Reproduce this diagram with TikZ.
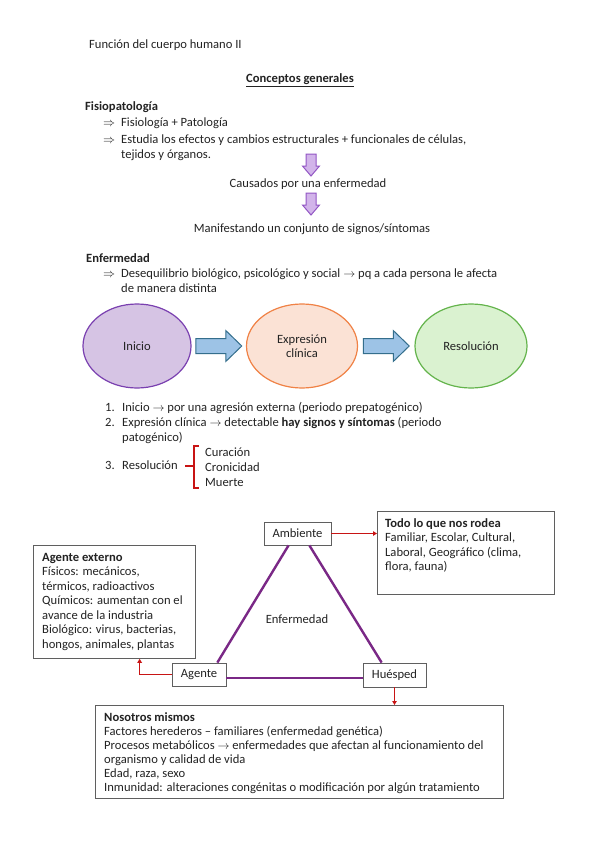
\documentclass[tikz,border=0pt]{standalone}
\usepackage{fontspec}
\setmainfont{Carlito}
\usetikzlibrary{arrows.meta,positioning,shapes.geometric,calc}
\definecolor{ink}{RGB}{35,35,35}
\definecolor{lilac}{RGB}{210,180,234}
\definecolor{lilacline}{RGB}{146,86,196}
\definecolor{plum}{RGB}{122,40,134}
\definecolor{inifill}{RGB}{214,196,228}
\definecolor{iniline}{RGB}{122,64,176}
\definecolor{expfill}{RGB}{251,226,213}
\definecolor{expline}{RGB}{240,130,70}
\definecolor{resfill}{RGB}{218,242,208}
\definecolor{resline}{RGB}{100,180,76}
\definecolor{sky}{RGB}{157,195,230}
\definecolor{skyline}{RGB}{52,110,140}
\definecolor{alert}{RGB}{200,20,20}
\definecolor{frame}{RGB}{95,95,95}
\tikzset{
  >={Triangle[length=4pt,width=4.5pt]},
  txt/.style={anchor=base west,inner sep=0pt,text=ink},
  ctxt/.style={anchor=base,inner sep=0pt,text=ink},
  phase/.style n args={2}{ellipse,draw=#1,fill=#2,line width=1.2pt,
    minimum height=84pt,align=center,text=ink,inner sep=0pt},
  corner/.style={draw=frame,line width=0.8pt,minimum height=23pt,text=ink,inner sep=0pt},
  infobox/.style={draw=frame,line width=0.8pt,anchor=north west,inner sep=0pt},
  infotxt/.style={anchor=north west,align=left,inner sep=0pt,text=ink},
  side/.style={plum,line width=2.4pt},
  link/.style={->,alert,line width=1pt},
  % pictograms
  pics/downarrow/.style={code={
    \filldraw[fill=lilac,draw=lilacline,line width=1pt]
      (-5,0) -- (5,0) -- (5,12) -- (8.5,12) -- (0,22) -- (-8.5,12) -- (-5,12) -- cycle;
  }},
  pics/rightarrow/.style={code={
    \filldraw[fill=sky,draw=skyline,line width=1pt]
      (-23,-7.5) -- (7,-7.5) -- (7,-15.5) -- (23,0) -- (7,15.5) -- (7,7.5) -- (-23,7.5) -- cycle;
  }},
}

\begin{document}
\fontsize{12.6}{14.5}\selectfont
\begin{tikzpicture}[x=1pt,y=-1pt]
  \path[use as bounding box,fill=white] (0,0) rectangle (599,848);

  % heading
  \node[txt] (head) at (89,49) {Función del cuerpo humano II};
  \node[ctxt] (title) at (300,83) {\textbf{\underline{Conceptos generales}}};

  % fisiopatologia
  \node[txt] (fisio) at (85,111) {\textbf{Fisiopatología}};
  \node[txt] (b1) at (103,127) {$\Rightarrow$};
  \node[txt] (t1) at (121,127) {Fisiología + Patología};
  \node[txt] (b2) at (103,143) {$\Rightarrow$};
  \node[txt] (t2) at (121,143) {Estudia los efectos y cambios estructurales + funcionales de células,};
  \node[txt] (t2b) at (121,158) {tejidos y órganos.};
  \pic at (311,154) {downarrow};
  \node[ctxt] (caus) at (308,187) {Causados por una enfermedad};
  \pic at (311,193) {downarrow};
  \node[ctxt] (mani) at (312,232) {Manifestando un conjunto de signos/síntomas};

  % enfermedad
  \node[txt] (enfh) at (86,262) {\textbf{Enfermedad}};
  \node[txt] (b3) at (103,277) {$\Rightarrow$};
  \node[txt] (t3) at (121,277) {Desequilibrio biológico, psicológico y social $\rightarrow$ pq a cada persona le afecta};
  \node[txt] (t3b) at (121,292) {de manera distinta};

  % fases
  \node[phase={iniline}{inifill},minimum width=108pt] (ini) at (137,346) {Inicio};
  \node[phase={expline}{expfill},minimum width=111pt] (exp) at (302,346) {Expresión\\clínica};
  \node[phase={resline}{resfill},minimum width=112pt] (res) at (471,346) {Resolución};
  \pic at ($(ini.east)!0.5!(exp.west)$) {rightarrow};
  \pic at ($(exp.east)!0.5!(res.west)$) {rightarrow};

  % lista
  \node[txt] (n1) at (105,411) {1.};
  \node[txt] (l1) at (122,411) {Inicio $\rightarrow$ por una agresión externa (periodo prepatogénico)};
  \node[txt] (n2) at (105,426) {2.};
  \node[txt] (l2) at (122,426) {Expresión clínica $\rightarrow$ detectable \textbf{hay signos y síntomas} (periodo};
  \node[txt] (l2b) at (122,441) {patogénico)};
  \node[txt] (n3) at (105,469) {3.};
  \node[txt] (l3) at (122,469) {Resolución};
  \node[txt] (cur) at (205,456) {Curación};
  \node[txt] (cro) at (205,471) {Cronicidad};
  \node[txt] (mue) at (205,486) {Muerte};
  \coordinate (br) at (194,466);
  \draw[alert,line width=1.3pt] (br) -- ++(-9,0);
  \draw[alert,line width=1.3pt] ($(br)+(5,-20)$) -| ($(br)+(0,22)$) -- ++(5,0);

  % triada
  \node[corner,minimum width=67pt] (amb) at (297.5,533.5) {Ambiente};
  \node[corner,minimum width=54pt] (age) at (199,674.5) {Agente};
  \node[corner,minimum width=63pt,minimum height=24pt] (hue) at (394.5,675) {Huésped};
  \draw[side] (amb.233) -- (age.33);
  \draw[side] (amb.315) -- (hue.136);
  \draw[side] (age.-7) -- (age.-7 -| hue.west);
  \node[text=ink] (enf) at (297,619) {Enfermedad};

  % cuadros
  \node[infobox,minimum width=177pt,minimum height=83pt] (todo) at (377,511) {};
  \node[infotxt] (todot) at ($(todo.north west)+(8,7)$)
    {\textbf{Todo lo que nos rodea}\\Familiar, Escolar, Cultural,\\Laboral, Geográfico (clima,\\flora, fauna)};
  \node[infobox,minimum width=162pt,minimum height=113pt] (ext) at (33,545) {};
  \node[infotxt] (extt) at ($(ext.north west)+(9,8)$)
    {\textbf{Agente externo}\\Físicos: mecánicos,\\térmicos, radioactivos\\Químicos: aumentan con el\\avance de la industria\\Biológico: virus, bacterias,\\hongos, animales, plantas};
  \node[infobox,minimum width=408pt,minimum height=93pt] (nos) at (95,705) {};
  \node[infotxt,font=\fontsize{12.6}{14}\selectfont] (nost) at ($(nos.north west)+(9,7)$)
    {\textbf{Nosotros mismos}\\Factores herederos – familiares (enfermedad genética)\\Procesos metabólicos $\rightarrow$ enfermedades que afectan al funcionamiento del\\organismo y calidad de vida\\Edad, raza, sexo\\Inmunidad: alteraciones congénitas o modificación por algún tratamiento};

  % enlaces
  \draw[link] (amb.east) -- (todo.west |- amb.east);
  \draw[link] (age.west) -| ($(ext.south west)!0.655!(ext.south east)$);
  \draw[link] (hue.south) -- (hue.south |- nos.north);
\end{tikzpicture}
\end{document}
